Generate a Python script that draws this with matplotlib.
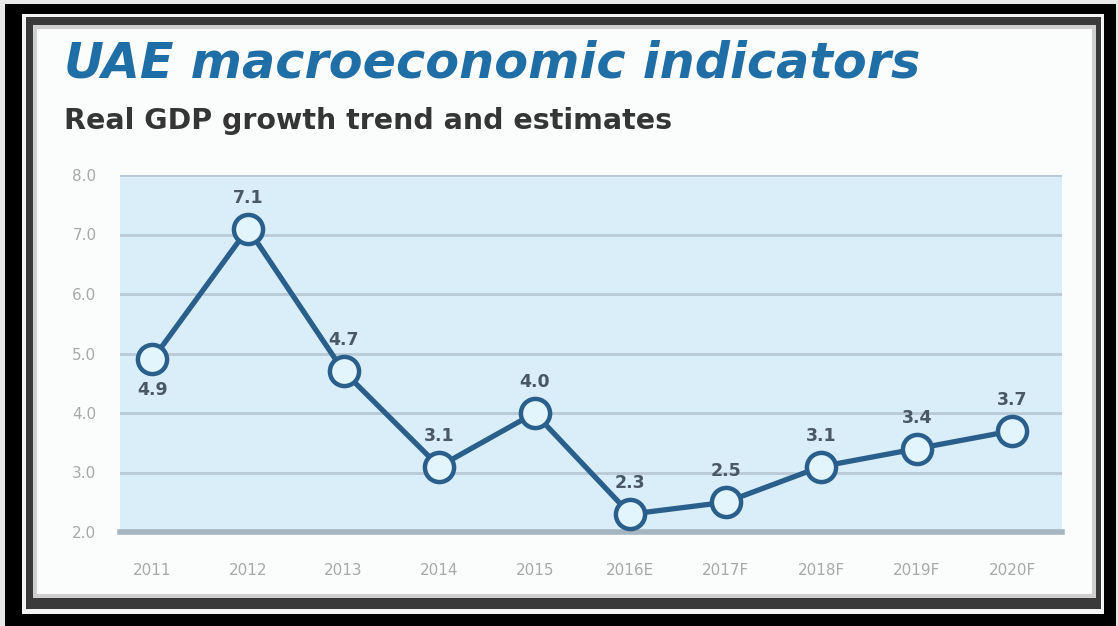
import matplotlib.pyplot as plt
from matplotlib.patches import Rectangle

years = ["2011", "2012", "2013", "2014", "2015", "2016E", "2017F", "2018F", "2019F", "2020F"]
growth = [4.9, 7.1, 4.7, 3.1, 4.0, 2.3, 2.5, 3.1, 3.4, 3.7]
label_below = [True, False, False, False, False, False, False, False, False, False]
y_ticks = [2.0, 3.0, 4.0, 5.0, 6.0, 7.0, 8.0]

W, H = 1118, 626
fig = plt.figure(figsize=(W / 100, H / 100), dpi=100)
fig.patch.set_facecolor("white")


def box(x0, y0, x1, y1, color, z=0):
    # rectangle given in pixel coords measured from the top-left corner
    fig.patches.append(Rectangle((x0 / W, 1 - y1 / H), (x1 - x0) / W, (y1 - y0) / H,
                                 transform=fig.transFigure, facecolor=color,
                                 edgecolor="none", zorder=z))


# picture-frame border
box(0, 0, W, H, "#e8e8e8", -10)
box(5, 4, W - 2, H, "#000000", -9)
box(22, 14, W - 14, 614, "#f4f4f4", -8)
box(26, 17, W - 17, 609, "#3a3a3a", -7)
box(33, 25, W - 22, 598, "#cfcfcf", -6)
box(37, 29, W - 26, 594, "#fbfdfd", -5)

ax = fig.add_axes([120 / W, 1 - 532 / H, 942 / W, 357 / H])
ax.set_facecolor("#d9eef9")
ax.set_xlim(-0.34, 9.52)
ax.set_ylim(2.0, 8.0)
x = list(range(len(years)))

for v in y_ticks[1:]:
    ax.axhline(v, color="#b9cad6", lw=2, zorder=1)
ax.axhline(2.0, color="#a6b5bf", lw=4, zorder=1, clip_on=False)

ax.plot(x, growth, color="#2a5f8c", lw=3.8, zorder=3,
        marker="o", markersize=21, markerfacecolor="#e2f4fc",
        markeredgecolor="#2a5f8c", markeredgewidth=3.2)

for xi, v, below in zip(x, growth, label_below):
    off = -31 if below else 31
    ax.annotate(f"{v:.1f}", (xi, v), xytext=(0, off), textcoords="offset pixels",
                ha="center", va="center", fontsize=12.5, fontweight="bold",
                color="#4a5866", zorder=4)

for s in ax.spines.values():
    s.set_visible(False)
ax.set_xticks(x)
ax.set_xticklabels(years, fontsize=11, color="#a9a9a9")
ax.set_yticks(y_ticks)
ax.set_yticklabels([f"{v:.1f}" for v in y_ticks], fontsize=11, color="#a9a9a9")
ax.tick_params(length=0)
ax.tick_params(axis="x", pad=22)
ax.tick_params(axis="y", pad=17)

fig.text(64 / W, 1 - 63 / H, "UAE macroeconomic indicators", fontsize=35.5,
         fontweight="bold", fontstyle="italic", color="#1f6ea5",
         ha="left", va="center")
fig.text(64 / W, 1 - 121 / H, "Real GDP growth trend and estimates", fontsize=20.5,
         fontweight="bold", color="#353535", ha="left", va="center")

fig.savefig("out.png", dpi=100)
